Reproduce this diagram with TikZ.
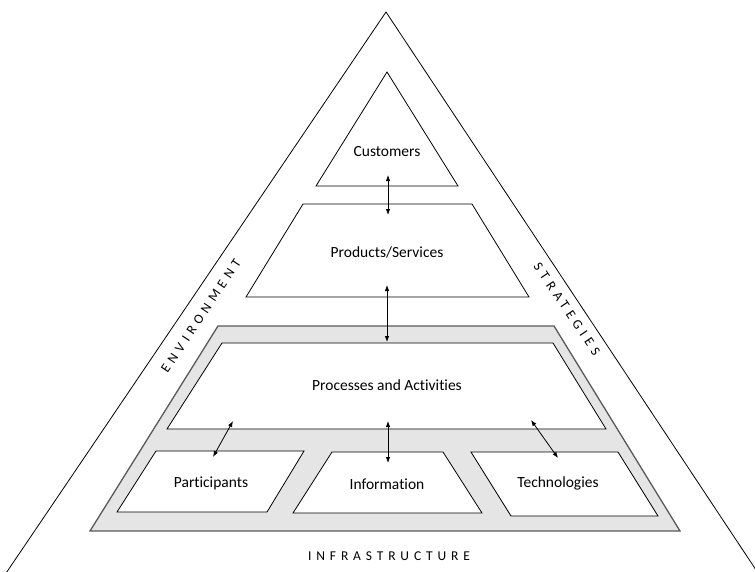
\documentclass[tikz,border=0pt]{standalone}
\usepackage{fontspec}
\setmainfont{Carlito}[Ligatures=NoCommon]
\usetikzlibrary{arrows.meta}
\begin{document}
\begin{tikzpicture}[x=1pt,y=-1pt,
  box/.style={draw=black,line width=0.8pt,fill=white},
  frame/.style={draw=black!65,line width=1.3pt,fill=black!10},
  lbl/.style={font=\fontsize{15.5}{18}\selectfont,inner sep=0pt},
  side/.style={font=\fontsize{13.5}{16}\selectfont\addfontfeature{LetterSpace=36},inner sep=0pt},
  biarrow/.style={{Latex[length=6pt,width=4.5pt]}-{Latex[length=6pt,width=4.5pt]},line width=0.8pt}]
\useasboundingbox (0,0) rectangle (755,571);
% outer triangle
\coordinate (apex) at (386,12);
\coordinate (bl) at (-2,585);
\coordinate (br) at (766,585);
\draw[line width=0.8pt] (bl) -- (apex) -- (br);
% gray frame
\draw[frame] (218,326) -- (554,326) -- (680,531) -- (90,531) -- cycle;
% shapes
\draw[box] (387,72) -- (458,186) -- (316,186) -- cycle;
\draw[box] (303,204) -- (472,204) -- (529,297) -- (246,297) -- cycle;
\draw[box] (222,343) -- (553,343) -- (606,429) -- (167,429) -- cycle;
\draw[box] (156,451) -- (304,451) -- (267,512) -- (117,512) -- cycle;
\draw[box] (332,452) -- (443,452) -- (482,513) -- (293,513) -- cycle;
\draw[box] (471,452) -- (618,452) -- (658,516) -- (511,516) -- cycle;
% labels
\node[lbl] (cust) at (387,152) {Customers};
\node[lbl] (prod) at (387,252) {Products/Services};
\node[lbl] (proc) at (387,385) {Processes and Activities};
\node[lbl] (part) at (211,483) {Participants};
\node[lbl] (info) at (387,484) {Information};
\node[lbl] (tech) at (558,483) {Technologies};
\node[side,rotate=56.4] (env) at (201,316) {ENVIRONMENT};
\node[side,rotate=-56] (strat) at (567,309) {STRATEGIES};
\node[side] (infra) at (389,556) {INFRASTRUCTURE};
% arrow ends
\coordinate (c1) at (388,175);
\coordinate (p1) at (388,215);
\coordinate (p2) at (387,285);
\coordinate (q2) at (387,342);
\coordinate (q3) at (233,421);
\coordinate (r3) at (213,457);
\coordinate (q4) at (388,421);
\coordinate (r4) at (388,463);
\coordinate (q5) at (531,420);
\coordinate (r5) at (558,458);
\draw[biarrow] (c1) -- (p1);
\draw[biarrow] (p2) -- (q2);
\draw[biarrow] (q3) -- (r3);
\draw[biarrow] (q4) -- (r4);
\draw[biarrow] (q5) -- (r5);
\end{tikzpicture}
\end{document}
